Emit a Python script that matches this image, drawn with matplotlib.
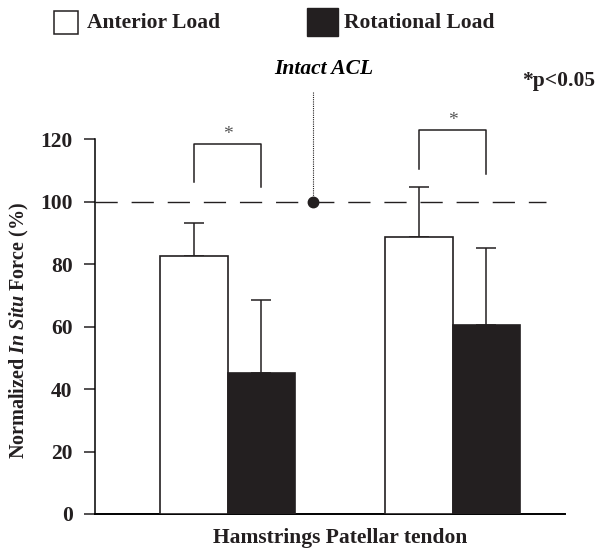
import matplotlib
matplotlib.use("Agg")
import matplotlib.pyplot as plt
from matplotlib.patches import Rectangle

plt.rcParams['font.family'] = ['Liberation Serif', 'DejaVu Serif']
plt.rcParams['font.weight'] = 'bold'
plt.rcParams['mathtext.fontset'] = 'custom'
plt.rcParams['mathtext.rm'] = 'Liberation Serif:bold'
plt.rcParams['mathtext.bfit'] = 'Liberation Serif:bold:italic'
plt.rcParams['mathtext.it'] = 'Liberation Serif:bold:italic'

# --- dados ---
grupos = ["Hamstrings", "Patellar tendon"]
anterior = [82.8, 88.6]
anterior_sd = [10.3, 16.0]
rotacional = [45.2, 60.7]
rotacional_sd = [23.3, 24.4]
yticks = [0, 20, 40, 60, 80, 100, 120]
intacto = 100
# colchetes de significancia: (topo, perna esquerda, perna direita)
colchetes = [(118.6, 106.4, 104.6), (123.0, 110.6, 109.0)]

TINTA = '#231f20'
fig = plt.figure(figsize=(5.97, 5.5), dpi=100)
ax = fig.add_axes([0.159, 0.0655, 0.787, 0.681])

largura = 0.3
xs = [0, 1]
xa = [x - largura / 2 for x in xs]
xr = [x + largura / 2 for x in xs]

ax.bar(xa, anterior, width=largura, color='white', edgecolor=TINTA, linewidth=1.2, zorder=3)
ax.bar(xr, rotacional, width=largura, color=TINTA, edgecolor=TINTA, linewidth=1.2, zorder=3)
ax.errorbar(xa, anterior, yerr=[[0, 0], anterior_sd], fmt='none', ecolor=TINTA,
            elinewidth=1.1, capsize=7.5, capthick=1.1, zorder=2)
ax.errorbar(xr, rotacional, yerr=[[0, 0], rotacional_sd], fmt='none', ecolor=TINTA,
            elinewidth=1.1, capsize=7.5, capthick=1.1, zorder=2)

# linha do LCA intacto
ax.plot([-0.59, 1.413], [intacto, intacto], color=TINTA, lw=1.0, dashes=(16, 10), zorder=1)
ax.plot([0.38], [intacto], 'o', color=TINTA, ms=7.5, zorder=4)
ax.plot([0.38, 0.38], [intacto, 135.5], color=TINTA, lw=0.8, ls=(0, (1, 1)), clip_on=False)
ax.text(0.425, 142.7, "Intact ACL", style='italic', fontsize=15.5, ha='center', va='center')

for x0, x1, (topo, e, d) in zip(xa, xr, colchetes):
    ax.plot([x0, x0, x1, x1], [e, topo, topo, d], color=TINTA, lw=1.1, clip_on=False)
    ax.text((x0 + x1) / 2, topo + 3.0, "*", fontsize=14, fontweight='normal', ha='center',
            va='center', color='#555555')

ax.set_xlim(-0.59, 1.498)
ax.set_ylim(0, 120)
ax.set_yticks(yticks)
ax.set_yticklabels([str(v) for v in yticks], fontsize=15.5, fontweight='bold')
ax.set_xticks([])
for s in ['top', 'right']:
    ax.spines[s].set_visible(False)
ax.spines['left'].set_linewidth(1.1)
ax.spines['bottom'].set_linewidth(1.4)
ax.tick_params(axis='y', direction='out', length=8, width=1.1, pad=8, colors=TINTA)
ax.set_ylabel(r"Normalized $\mathbfit{In\ Situ}$ Force (%)", fontsize=14.5, fontweight='bold',
              va='center', color=TINTA)
ax.yaxis.set_label_coords(-0.16, 0.49)
ax.set_xlabel(" ".join(grupos), fontsize=15.5, fontweight='bold', va='center', color=TINTA)
ax.xaxis.set_label_coords(0.523, -0.064)

# legenda manual
fig.patches.append(Rectangle((54 / 597, 1 - 34 / 550), 24 / 597, 23 / 550, transform=fig.transFigure,
                             facecolor='white', edgecolor=TINTA, lw=1.1))
fig.text(87 / 597, 1 - 23 / 550, "Anterior Load", fontsize=15.5, fontweight='bold', va='center',
         color=TINTA)
fig.patches.append(Rectangle((307 / 597, 1 - 36 / 550), 31 / 597, 28 / 550, transform=fig.transFigure,
                             facecolor=TINTA, edgecolor=TINTA, lw=1.0))
fig.text(344 / 597, 1 - 23 / 550, "Rotational Load", fontsize=15.5, fontweight='bold', va='center',
         color=TINTA)
fig.text(595 / 597, 1 - 81 / 550, "*p<0.05", fontsize=15.5, fontweight='bold', ha='right', va='center',
         color=TINTA)

fig.savefig("out.png", dpi=100)
